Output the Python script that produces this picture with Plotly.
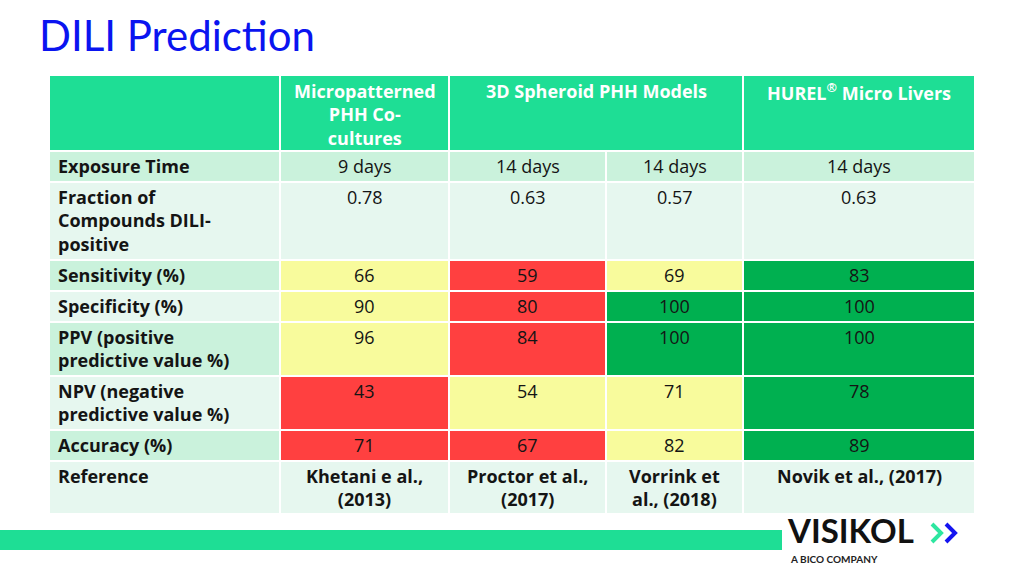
import plotly.graph_objects as go

# ---------------- data ----------------
title = "DILI Prediction"
header_groups = ["Micropatterned<br>PHH Co-<br>cultures", "3D Spheroid PHH Models", "HUREL<sup>®</sup> Micro Livers"]
header_span = [1, 2, 1]  # number of data columns covered by each header group

row_labels = ["Exposure Time", "Fraction of<br>Compounds DILI-<br>positive", "Sensitivity (%)",
              "Specificity (%)", "PPV (positive<br>predictive value %)",
              "NPV (negative<br>predictive value %)", "Accuracy (%)", "Reference"]

exposure = ["9 days", "14 days", "14 days", "14 days"]
fraction_pos = [0.78, 0.63, 0.57, 0.63]
sensitivity = [66, 59, 69, 83]
specificity = [90, 80, 100, 100]
ppv = [96, 84, 100, 100]
npv = [43, 54, 71, 78]
accuracy = [71, 67, 82, 89]
references = ["Khetani e al.,<br>(2013)", "Proctor et al.,<br>(2017)", "Vorrink et<br>al., (2018)", "Novik et al., (2017)"]

# rating of each metric cell: L = low (red), M = mid (yellow), H = high (green)
sens_rating = ["M", "L", "M", "H"]
spec_rating = ["M", "L", "H", "H"]
ppv_rating = ["M", "L", "H", "H"]
npv_rating = ["L", "M", "M", "H"]
acc_rating = ["L", "L", "M", "H"]

# ---------------- layout constants ----------------
W, H = 1024, 576
X0, Y0 = 49, 75
col_widths = [231, 169, 157, 137, 232]
row_heights = [76, 31, 78, 31, 31, 54, 54, 31, 53]  # header + 8 body rows
GAP = 1

C_HEAD = "#1EDE95"
C_DARK = "#CAF2DC"
C_LIGHT = "#E6F7EF"
C_RATE = {"L": "#FF4040", "M": "#F8FB9C", "H": "#00B050"}
TXT = "#141414"
FONT = "Open Sans"
FS = 18

col_edges = [X0]
for w in col_widths:
    col_edges.append(col_edges[-1] + w)
row_edges = [Y0]
for h in row_heights:
    row_edges.append(row_edges[-1] + h)

fig = go.Figure()
shapes = []
annotations = []


def cell(c0, c1, r, color):
    shapes.append(dict(type="rect", xref="x", yref="y",
                       x0=col_edges[c0] + GAP, x1=col_edges[c1] - GAP,
                       y0=row_edges[r] + GAP, y1=row_edges[r + 1] - GAP,
                       fillcolor=color, line=dict(width=0), layer="below"))


def text(x, y, s, anchor="center", bold=False, color=TXT, size=FS):
    annotations.append(dict(xref="x", yref="y", x=x, y=y, text=("<b>%s</b>" % s) if bold else s,
                            xanchor=anchor, yanchor="top", align=anchor if anchor != "center" else "center",
                            showarrow=False, font=dict(family=FONT, size=size, color=color)))


# header row
cell(0, 1, 0, C_HEAD)
c = 1
for g, span in zip(header_groups, header_span):
    cell(c, c + span, 0, C_HEAD)
    text((col_edges[c] + col_edges[c + span]) / 2, row_edges[0] + 2, g, bold=True, color="white")
    c += span

body = [
    ([str(v) for v in exposure], None),
    (["%.2f" % v for v in fraction_pos], None),
    ([str(v) for v in sensitivity], sens_rating),
    ([str(v) for v in specificity], spec_rating),
    ([str(v) for v in ppv], ppv_rating),
    ([str(v) for v in npv], npv_rating),
    ([str(v) for v in accuracy], acc_rating),
    (references, None),
]

for i, (label, (vals, rating)) in enumerate(zip(row_labels, body)):
    r = i + 1
    base = C_DARK if i % 2 == 0 else C_LIGHT
    cell(0, 1, r, base)
    text(col_edges[0] + 7, row_edges[r] + 1, label, anchor="left", bold=True)
    for j, v in enumerate(vals):
        col = C_RATE[rating[j]] if rating else base
        cell(j + 1, j + 2, r, col)
        text((col_edges[j + 1] + col_edges[j + 2]) / 2, row_edges[r] + 1, v, bold=(i == 7))

# title
annotations.append(dict(xref="x", yref="y", x=37, y=8, text=title, xanchor="left", yanchor="top",
                        showarrow=False, font=dict(family="Lato", size=42, color="#0A14F0")))

# bottom bar
shapes.append(dict(type="rect", xref="x", yref="y", x0=0, x1=782, y0=530, y1=550,
                   fillcolor=C_HEAD, line=dict(width=0)))

# logo
annotations.append(dict(xref="x", yref="y", x=785, y=508, text="<b>VISIKOL</b>", xanchor="left", yanchor="top",
                        showarrow=False, font=dict(family="Lato", size=33, color="#111111")))
annotations.append(dict(xref="x", yref="y", x=788, y=551, text="<b>A BICO COMPANY</b>", xanchor="left", yanchor="top",
                        showarrow=False, font=dict(family="Lato", size=10, color="#222222")))
shapes.append(dict(type="path", xref="x", yref="y", path="M 932 524 L 941 533 L 932 542",
                   line=dict(color="#2EE6A0", width=4)))
shapes.append(dict(type="path", xref="x", yref="y", path="M 946 524 L 955 533 L 946 542",
                   line=dict(color="#1414F0", width=4)))

fig.update_layout(width=W, height=H, margin=dict(l=0, r=0, t=0, b=0),
                  paper_bgcolor="white", plot_bgcolor="white",
                  xaxis=dict(range=[0, W], visible=False, fixedrange=True),
                  yaxis=dict(range=[H, 0], visible=False, fixedrange=True),
                  shapes=shapes, annotations=annotations, showlegend=False)

fig.write_html("out.html", config={"displayModeBar": False},
               post_script="document.body.style.margin='0';document.body.style.overflow='hidden';")
